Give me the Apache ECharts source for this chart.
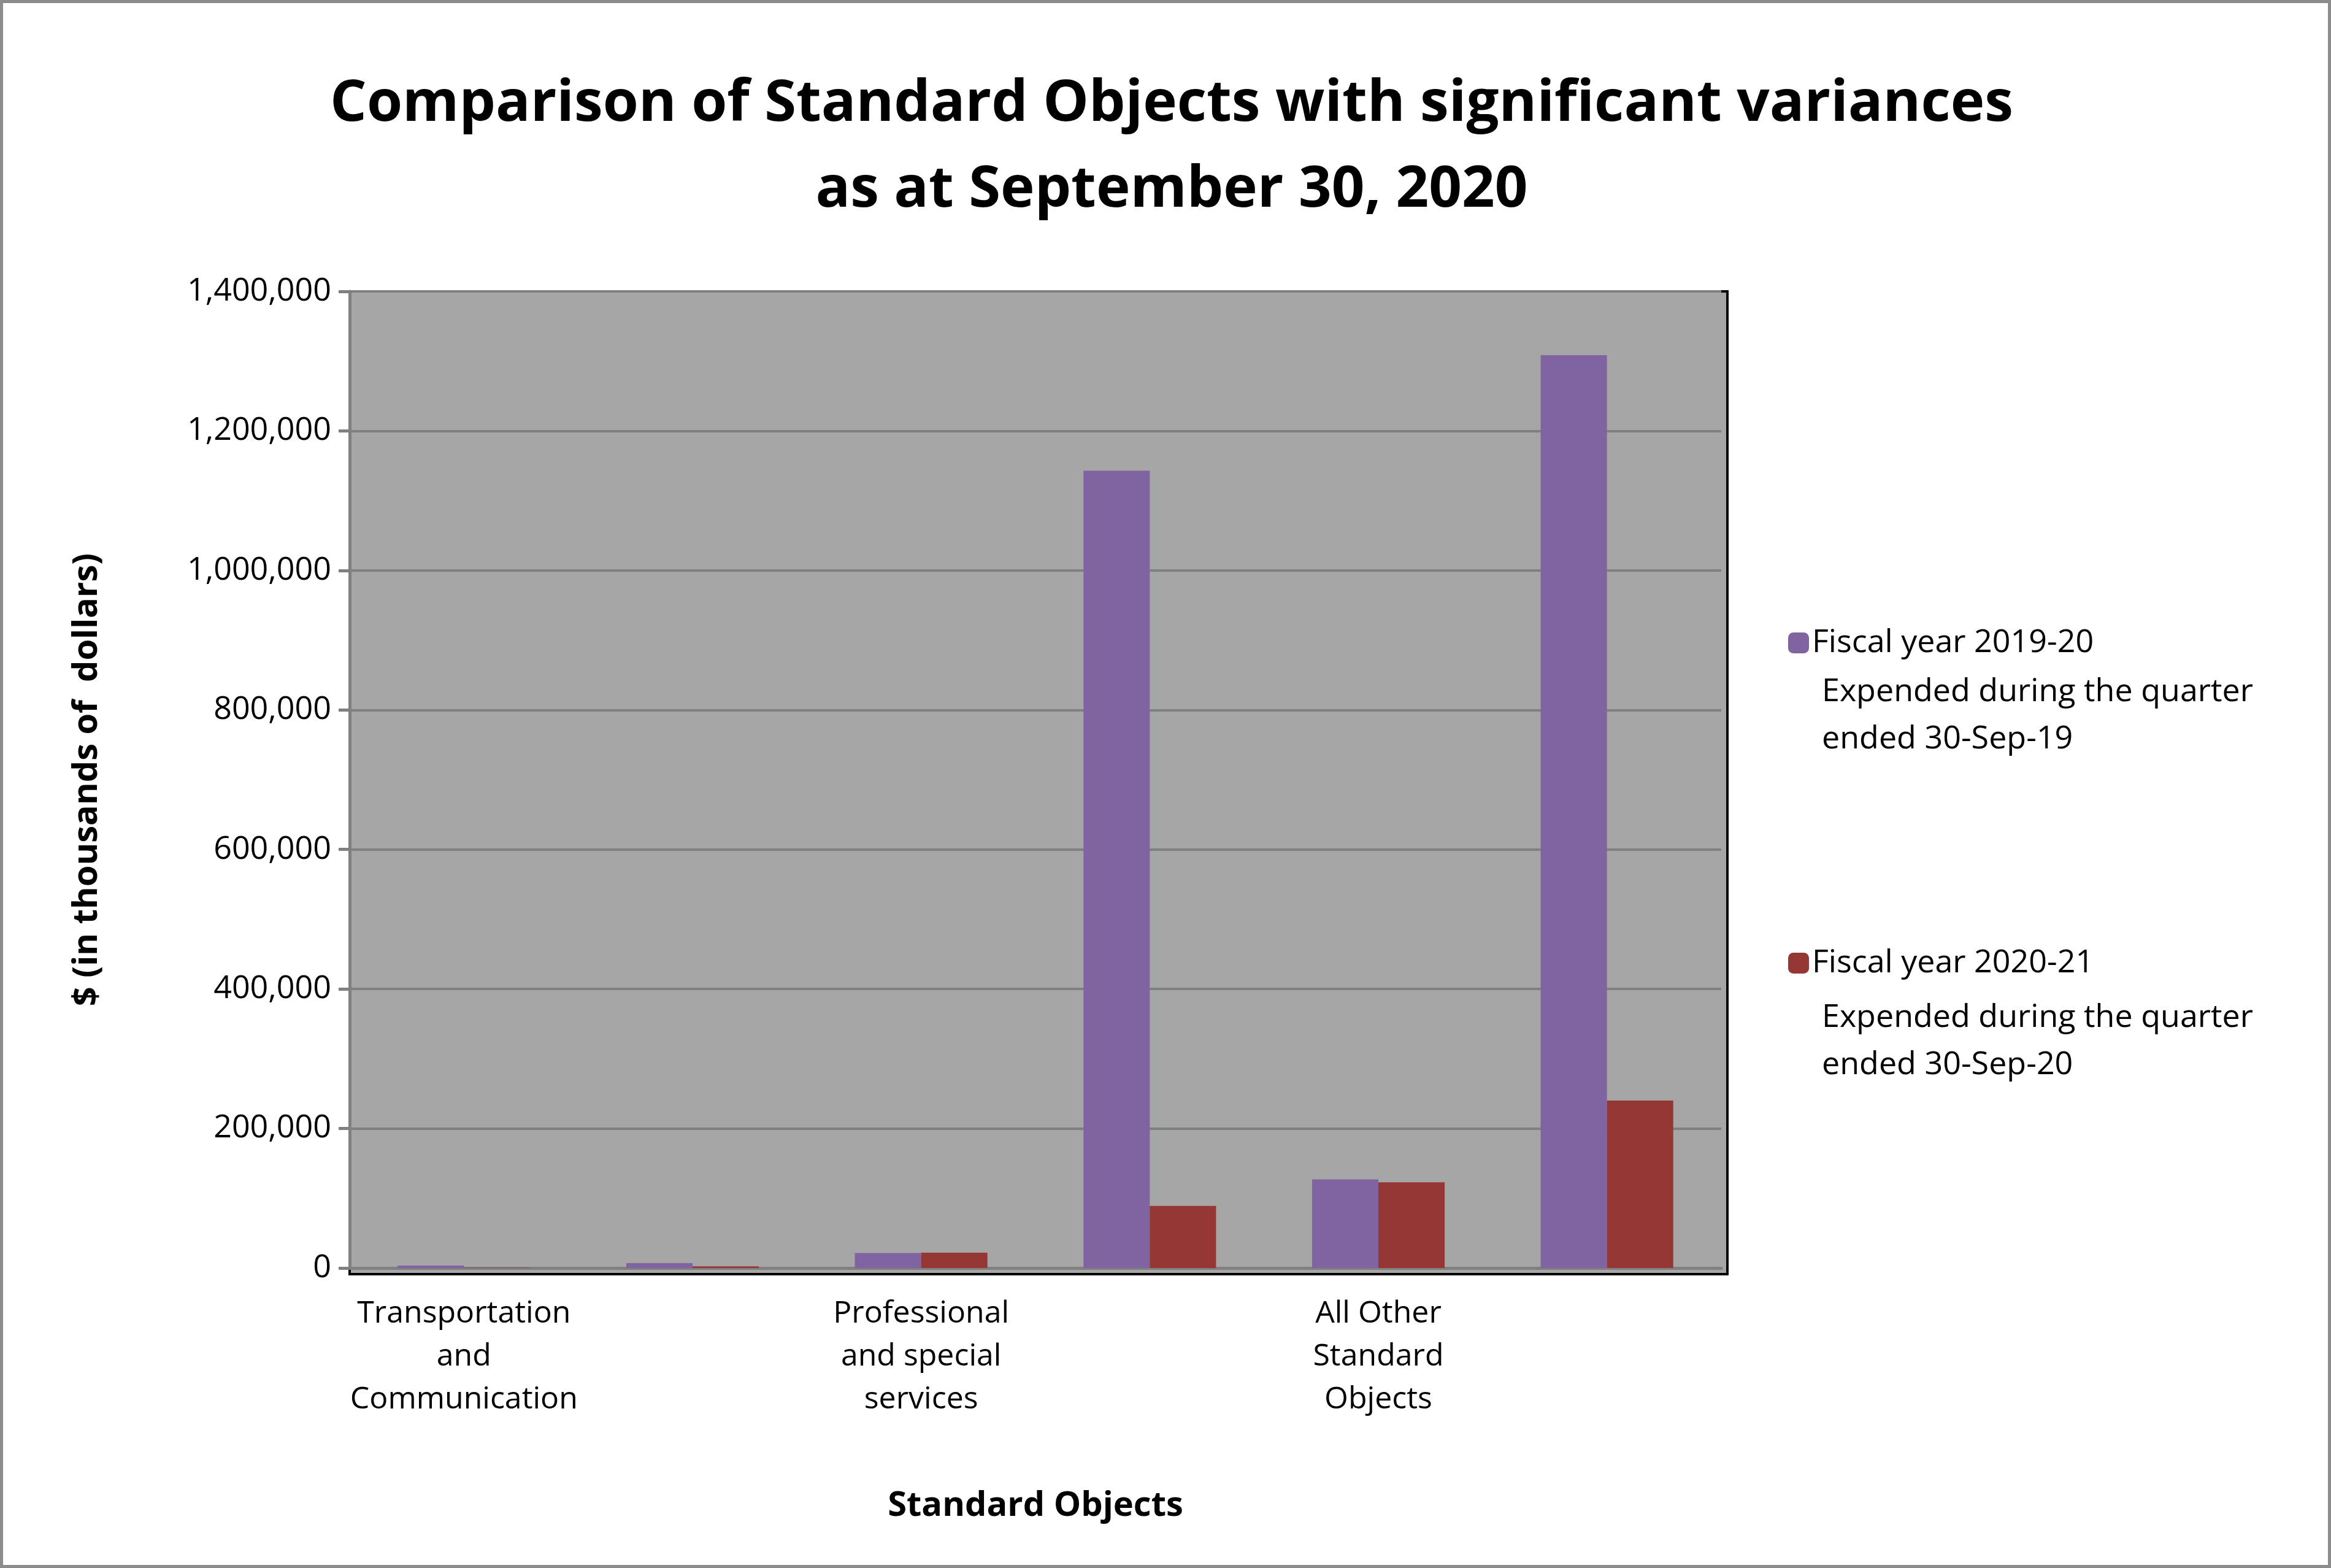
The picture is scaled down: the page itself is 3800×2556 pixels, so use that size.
<!DOCTYPE html>
<html><head><meta charset="utf-8">
<script src="https://cdn.jsdelivr.net/npm/echarts@6/dist/echarts.min.js"></script>
<style>html,body{margin:0;padding:0;background:#fff}#c{width:3800px;height:2556px;box-sizing:border-box;border:5px solid #8c8c8c}</style>
</head><body><div id="c"></div>
<script>
const categories = ['Transportation\nand\nCommunication','Rentals','Professional\nand special\nservices','Transfer\nPayments','All Other\nStandard\nObjects','Total net\nbudgetary\nexpenditures'];
const fy1920 = [3500, 7000, 21600, 1143000, 127000, 1308600];
const fy2021 = [500, 2500, 22000, 89000, 123000, 240000];
const seriesNames = ['Fiscal year 2019-20', 'Fiscal year 2020-21'];
const seriesSub = ['Expended during the quarter\nended 30-Sep-19', 'Expended during the quarter\nended 30-Sep-20'];
const F = '"Open Sans", "Liberation Sans", sans-serif';
const chart = echarts.init(document.getElementById('c'));
chart.setOption({
  animation:false,
  title:{text:'Comparison of Standard Objects with significant variances\nas at September 30, 2020',left:1900,top:90,textAlign:'center',
    textStyle:{fontFamily:F,fontSize:94,fontWeight:'bold',color:'#000',lineHeight:140}},
  grid:{left:565,right:3800-2811,top:470,bottom:2556-2072},
  legend:{orient:'vertical',left:2905,top:1012,itemGap:470,itemWidth:34,itemHeight:34,
    textStyle:{fontFamily:F,fontSize:52,color:'#000'},data:seriesNames},
  graphic: seriesSub.map((s,i)=>({type:'text',left:2965,top:1085+i*531,style:{text:s,font:'52px '+F,lineHeight:77,fill:'#000'}})),
  xAxis:{type:'category',data:categories,name:'Standard Objects',nameLocation:'middle',nameGap:360,
    nameTextStyle:{fontFamily:F,fontSize:56,fontWeight:'bold',color:'#000'},
    axisLine:{lineStyle:{color:'#808080',width:5}},axisTick:{length:18,lineStyle:{color:'#808080',width:5}},
    axisLabel:{fontFamily:F,fontSize:50,color:'#000',lineHeight:70,margin:40}},
  yAxis:{type:'value',min:0,max:1400000,interval:200000,name:'$ (in thousands of  dollars)',nameLocation:'middle',nameGap:400,
    nameTextStyle:{fontFamily:F,fontSize:56,fontWeight:'bold',color:'#000'},
    axisLine:{show:true,lineStyle:{color:'#808080',width:5}},axisTick:{show:true,length:18,lineStyle:{color:'#808080',width:5}},
    axisLabel:{fontFamily:F,fontSize:52,color:'#000',margin:30,formatter:v=>v.toLocaleString('en-US')},
    splitLine:{lineStyle:{color:'#808080',width:4}}},
  series:[
    {type:'bar',name:seriesNames[0],data:fy1920,itemStyle:{color:'#8064a2'},barGap:'0%',barCategoryGap:'42%'},
    {type:'bar',name:seriesNames[1],data:fy2021,itemStyle:{color:'#953735'}},
    {type:'line',data:[],markArea:{silent:true}}
  ].slice(0,2),
  backgroundColor:'#fff'
});
// plot background + border
chart.setOption({graphic: chart.getOption().graphic[0].elements.concat([
  {type:'rect',shape:{x:565,y:470,width:2246,height:1602},style:{fill:'#a6a6a6',stroke:'#000',lineWidth:4},z:-10,silent:true}
])});
</script></body></html>
